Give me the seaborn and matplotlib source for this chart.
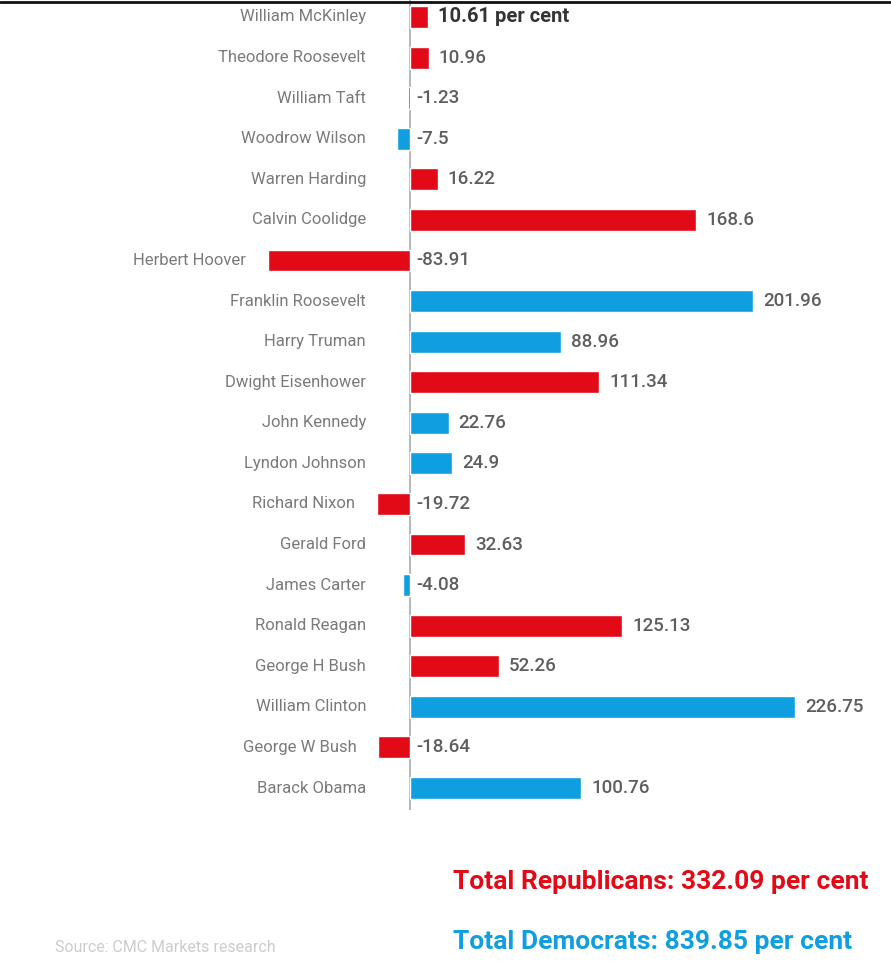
import matplotlib
matplotlib.use("Agg")
import matplotlib.pyplot as plt
import seaborn as sns
import pandas as pd

presidents = ["William McKinley", "Theodore Roosevelt", "William Taft", "Woodrow Wilson",
              "Warren Harding", "Calvin Coolidge", "Herbert Hoover", "Franklin Roosevelt",
              "Harry Truman", "Dwight Eisenhower", "John Kennedy", "Lyndon Johnson",
              "Richard Nixon", "Gerald Ford", "James Carter", "Ronald Reagan",
              "George H Bush", "William Clinton", "George W Bush", "Barack Obama"]
returns = [10.61, 10.96, -1.23, -7.5, 16.22, 168.6, -83.91, 201.96, 88.96, 111.34,
           22.76, 24.9, -19.72, 32.63, -4.08, 125.13, 52.26, 226.75, -18.64, 100.76]
party = ["R", "R", "R", "D", "R", "R", "R", "D", "D", "R",
         "D", "D", "R", "R", "D", "R", "R", "D", "R", "D"]
value_labels = ["10.61 per cent", "10.96", "-1.23", "-7.5", "16.22", "168.6", "-83.91",
                "201.96", "88.96", "111.34", "22.76", "24.9", "-19.72", "32.63", "-4.08",
                "125.13", "52.26", "226.75", "-18.64", "100.76"]
total_rep = "Total Republicans: 332.09 per cent"
total_dem = "Total Democrats: 839.85 per cent"
source = "Source: CMC Markets research"

RED = "#e30a17"
BLUE = "#0f9fe0"

sns.set_style("white")
plt.rcParams["font.family"] = ["Roboto", "DejaVu Sans"]

df = pd.DataFrame({"name": presidents, "value": returns, "party": party})

W, H = 891, 976
fig = plt.figure(figsize=(W / 100, H / 100), dpi=100)
ax_h = 810 / H
ax = fig.add_axes([0, 1 - ax_h, 1, ax_h])

sns.barplot(data=df, y="name", x="value", hue="party", palette={"R": RED, "D": BLUE},
            dodge=False, width=0.54, orient="h", legend=False, ax=ax, saturation=1)

ppu = 1.698  # px per unit
ax.set_xlim(-410 / ppu, (W - 410) / ppu)
row_px = 40.58
top = -17 / row_px
ax.set_ylim(top + 810 / row_px, top)
ax.axvline(0, color="#aaaaaa", lw=1.2, zorder=0)
for s in ax.spines.values():
    s.set_visible(False)
ax.set_xticks([])
ax.set_yticks([])
ax.set_xlabel("")
ax.set_ylabel("")

px = 1 / ppu
for i, (n, v, lab) in enumerate(zip(presidents, returns, value_labels)):
    xn = min(-44 * px, v - 22 * px)
    ax.text(xn, i, n, ha="right", va="center", color="#7a7a7a", fontsize=12)
    if i == 0:
        ax.text(v + 10 * px, i, lab, ha="left", va="center", color="#333333",
                fontsize=14.5, fontweight="bold")
    else:
        xv = v + 10 * px if v > 0 else 6 * px
        ax.text(xv, i, lab, ha="left", va="center", color="#5e5e5e",
                fontsize=13.5, fontweight="medium")

fig.add_artist(plt.Line2D([0, 1], [1 - 1.5 / H, 1 - 1.5 / H], color="#111111", lw=2))
fig.text(453 / W, 1 - 882 / H, total_rep, color=RED, fontsize=19, fontweight="bold",
         ha="left", va="center")
fig.text(453 / W, 1 - 942 / H, total_dem, color=BLUE, fontsize=19, fontweight="bold",
         ha="left", va="center")
fig.text(55 / W, 1 - 948 / H, source, color="#cccccc", fontsize=11.5, ha="left", va="center")

fig.savefig("out.png", dpi=100)
